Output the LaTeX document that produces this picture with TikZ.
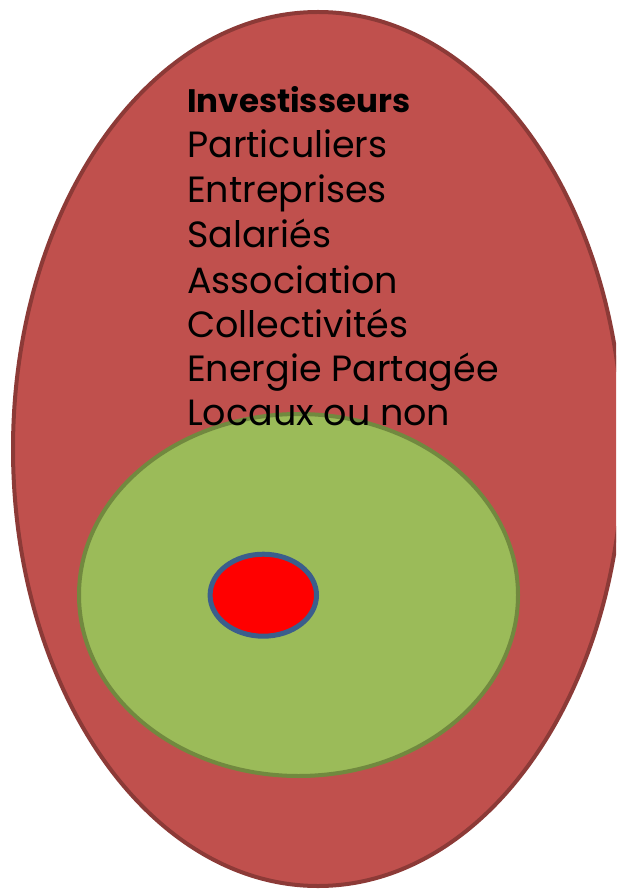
\documentclass[tikz,border=0pt]{standalone}
\usepackage{fontspec}
\setmainfont{Poppins}
\definecolor{outerfill}{HTML}{C0504D}
\definecolor{outerline}{HTML}{8C3A37}
\definecolor{midfill}{HTML}{9BBB59}
\definecolor{midline}{HTML}{71893F}
\definecolor{corefill}{HTML}{FF0000}
\definecolor{coreline}{HTML}{3B5E8C}
\tikzset{
  outerell/.style={fill=outerfill,draw=outerline,line width=4pt},
  midell/.style={fill=midfill,draw=midline,line width=4pt},
  coreell/.style={fill=corefill,draw=coreline,line width=5pt},
  lbl/.style={anchor=base west,inner sep=0pt,font=\fontsize{36.5}{44}\selectfont,text=black},
  lblb/.style={lbl,font=\fontsize{32.5}{40}\selectfont\bfseries}
}
\begin{document}
\begin{tikzpicture}[x=1pt,y=-1pt]
\useasboundingbox (0,0) rectangle (616,890);
\clip (0,0) rectangle (616,890);
\path[outerell] (318,449) ellipse [x radius=305, y radius=437];
\path[midell] (298.5,595) ellipse [x radius=219.5, y radius=181];
\path[coreell] (263.3,595.2) ellipse [x radius=53.2, y radius=41];
\node[lblb] (t1) at (187,113) {Investisseurs};
\node[lbl] (t2) at (187,158) {Particuliers};
\node[lbl] (t3) at (187,203) {Entreprises};
\node[lbl] (t4) at (187,248) {Salariés};
\node[lbl] (t5) at (187,293) {Association};
\node[lbl] (t6) at (187,337) {Collectivités};
\node[lbl] (t7) at (187,381) {Energie Partagée};
\node[lbl] (t8) at (187,425) {Locaux ou non};
\end{tikzpicture}
\end{document}
